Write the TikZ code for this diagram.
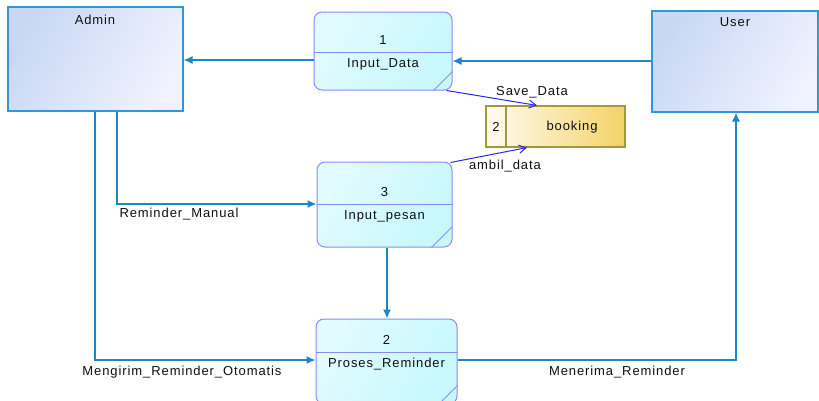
\documentclass[tikz,border=0pt]{standalone}
\usepackage{fontspec}
\setmainfont{Liberation Sans}[LetterSpace=7]
\usetikzlibrary{arrows.meta,calc}
\definecolor{conn}{RGB}{28,134,200}
\definecolor{extdraw}{RGB}{52,150,210}
\definecolor{extA}{RGB}{200,216,244}
\definecolor{extB}{RGB}{240,242,255}
\definecolor{procdraw}{RGB}{140,140,240}
\definecolor{procA}{RGB}{226,251,255}
\definecolor{procB}{RGB}{198,248,252}
\definecolor{storedraw}{RGB}{160,154,58}
\definecolor{storeA}{RGB}{255,252,242}
\definecolor{storeB}{RGB}{244,210,104}
\definecolor{dataflow}{RGB}{40,40,240}
\definecolor{txt}{RGB}{15,15,15}
\tikzset{
  extbox/.style={draw=extdraw, line width=1.1pt, left color=extA, right color=extB, shading angle=60, inner sep=0pt},
  procbox/.style={draw=procdraw, line width=1pt, rounded corners=8pt, left color=procA, right color=procB, shading angle=60, inner sep=0pt},
  procline/.style={draw=procdraw, line width=1pt},
  storebox/.style={draw=storedraw, line width=1.2pt, left color=storeA, right color=storeB, inner sep=0pt},
  flow/.style={draw=conn, line width=1.3pt, -{Latex[length=9pt,width=8pt]}},
  dflow/.style={draw=dataflow, line width=1pt, -{Straight Barb[length=7pt,width=8pt]}},
  lbl/.style={text=txt, inner sep=0pt}
}
\begin{document}
\begin{tikzpicture}[x=1pt,y=-1pt,font=\fontsize{13}{15}\selectfont]
\useasboundingbox (0,0) rectangle (819,400);
\clip (0,0) rectangle (819,400);

% external entities
\node[extbox, minimum width=175pt, minimum height=104pt] (Admin) at (95.5,59) {};
\node[lbl] (AdminLbl) at (95,20) {Admin};
\node[extbox, minimum width=166pt, minimum height=101pt] (User) at (735,61.5) {};
\node[lbl] (UserLbl) at (735,22) {User};

% processes
\node[procbox, minimum width=138pt, minimum height=78pt] (P1) at (383,51) {};
\draw[procline] (P1.west |- 0,52) -- (P1.east |- 0,52);
\draw[procline] ($(P1.south east)+(0,-19)$) -- ($(P1.south east)+(-19,0)$);
\node[lbl] (P1num) at (383,40) {1};
\node[lbl] (P1name) at (383,64) {Input\_Data};

\node[procbox, minimum width=135pt, minimum height=85pt] (P3) at (384.5,204.5) {};
\draw[procline] (P3.west |- 0,204) -- (P3.east |- 0,204);
\draw[procline] ($(P3.south east)+(0,-21)$) -- ($(P3.south east)+(-21,0)$);
\node[lbl] (P3num) at (384.5,192) {3};
\node[lbl] (P3name) at (384.5,216) {Input\_pesan};

\node[procbox, minimum width=141pt, minimum height=85pt] (P2) at (386.5,361.5) {};
\draw[procline] (P2.west |- 0,352) -- (P2.east |- 0,352);
\draw[procline] ($(P2.south east)+(0,-19)$) -- ($(P2.south east)+(-19,0)$);
\node[lbl] (P2num) at (386.5,340) {2};
\node[lbl] (P2name) at (386.5,364) {Proses\_Reminder};

% data store
\node[storebox, minimum width=139pt, minimum height=41pt] (Book) at (555.5,126.5) {};
\draw[draw=storedraw, line width=1.2pt] (Book.north -| 506,0) -- (Book.south -| 506,0);
\node[lbl] (BookNum) at (496,127) {2};
\node[lbl] (BookName) at (572,127) {booking};

% flows
\draw[flow] (User.west |- 0,61) -- (P1.east |- 0,61);
\draw[flow] (P1.west |- 0,60) -- (Admin.east |- 0,60);
\draw[flow] (Admin.south -| 117,0) |- (P3.west |- 0,204);
\draw[flow] (Admin.south -| 95,0) |- (P2.west |- 0,360);
\draw[flow] (P3.south -| 387,0) -- (P2.north -| 387,0);
\draw[flow] (P2.east |- 0,360) -| (User.south -| 736,0);

\draw[dflow] ($(P1.south east)+(-6,0)$) -- (Book.north -| 537,0);
\draw[dflow] ($(P3.north east)+(-2,1)$) -- (Book.south -| 527,0);

% labels
\node[lbl] (LSave) at (532,92) {Save\_Data};
\node[lbl] (LAmbil) at (505,166) {ambil\_data};
\node[lbl] (LManual) at (179,214) {Reminder\_Manual};
\node[lbl] (LOtomatis) at (182,372) {Mengirim\_Reminder\_Otomatis};
\node[lbl] (LMenerima) at (617,372) {Menerima\_Reminder};
\end{tikzpicture}
\end{document}
